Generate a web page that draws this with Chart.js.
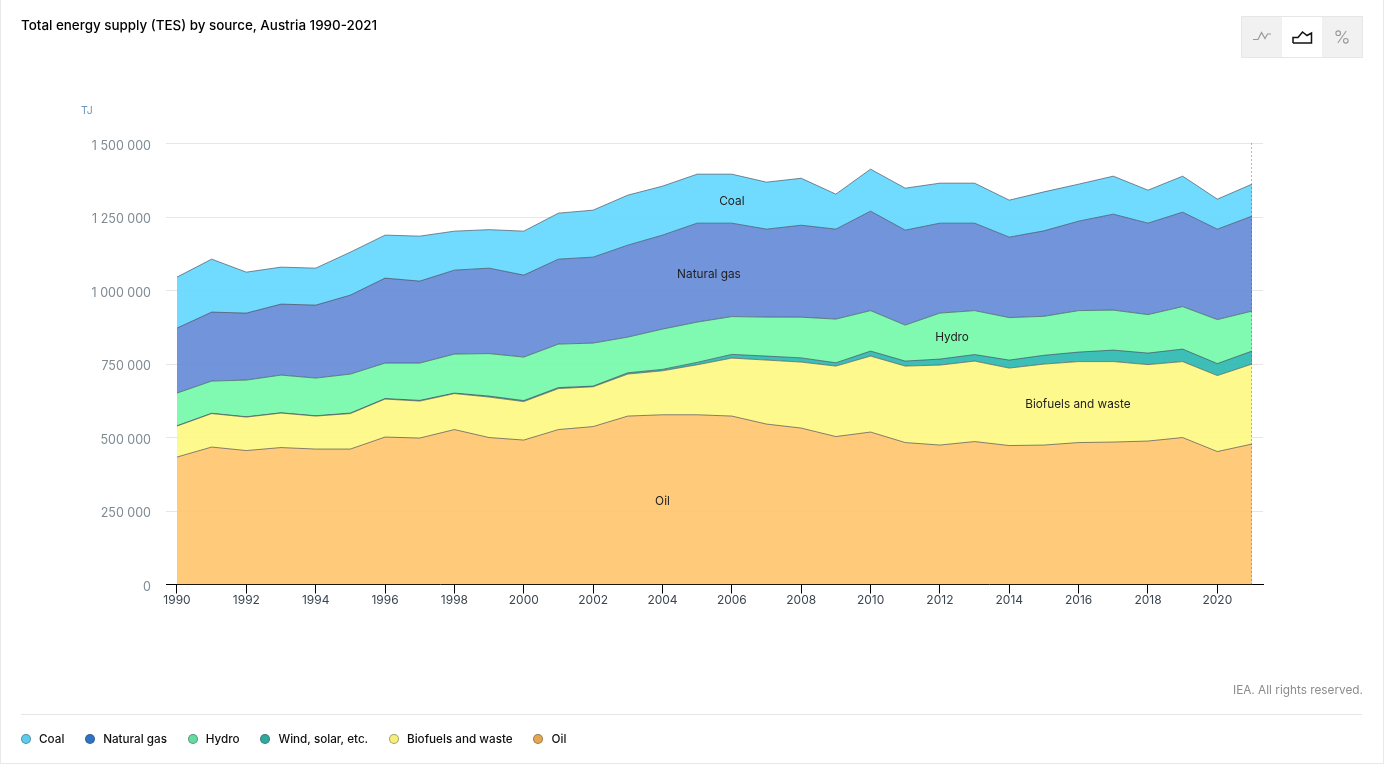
<!DOCTYPE html>
<html>
<head>
<meta charset="utf-8">
<title>Total energy supply (TES) by source, Austria 1990-2021</title>
<script src="https://cdn.jsdelivr.net/npm/chart.js@4"></script>
<style>
  html, body { margin: 0; padding: 0; background: #fff; }
  body { width: 1384px; height: 764px; position: relative; overflow: hidden; font-family: Inter, "Noto Sans", sans-serif; color: #111; }
  #marco { position: absolute; left: 0; top: 0; width: 1382px; border: 1px solid #e8e8e8; border-top: none; height: 763px; }
  #grafico { position: absolute; left: 0; top: 0; }
  #titulo { position: absolute; left: 21px; top: 17px; font-size: 13.4px; font-weight: 500; color: #000; }
  #unidad { position: absolute; left: 81px; top: 104px; font-size: 10.5px; color: #6b96c0; }
  #botones { position: absolute; left: 1241px; top: 16px; width: 120px; height: 40px; border: 1px solid #e6e6e6; background: #f1f1f1; display: flex; }
  #botones div { width: 40px; height: 40px; display: flex; align-items: center; justify-content: center; }
  #botones .activo { background: #fff; }
  #derechos { position: absolute; right: 21px; top: 683px; font-size: 11.8px; color: #8c8c8c; }
  #linea { position: absolute; left: 21px; top: 714px; width: 1341px; height: 1px; background: #e6e6e6; }
  #leyenda { position: absolute; left: 21px; top: 731px; display: flex; font-size: 11.7px; font-weight: 500; color: #111; line-height: 16px; }
  #leyenda span.item { display: flex; align-items: center; margin-right: 20.8px; }
  #leyenda i { width: 8px; height: 8px; border-radius: 50%; margin-right: 8px; border: 1px solid rgba(60,70,80,.45); }
</style>
</head>
<body>
<div id="marco"></div>
<canvas id="grafico" width="1384" height="764"></canvas>
<div id="titulo">Total energy supply (TES) by source, Austria 1990-2021</div>
<div id="unidad">TJ</div>
<div id="botones">
  <div><svg width="20" height="14" viewBox="0 0 20 14"><polyline points="1,9.5 6,9.5 9.5,2.5 13,8.5 15.5,4 19,4" fill="none" stroke="#999" stroke-width="1.2"/></svg></div>
  <div class="activo"><svg width="21" height="14" viewBox="0 0 21 14"><polyline points="1,13 1,7.5 6,7.5 10.5,2 15,5.5 19.5,3 19.5,13 1,13" fill="none" stroke="#111" stroke-width="1.5"/></svg></div>
  <div><svg width="14" height="14" viewBox="0 0 14 14"><g fill="none" stroke="#999" stroke-width="1.1"><circle cx="3.2" cy="3.2" r="2.3"/><circle cx="10.8" cy="10.8" r="2.3"/><line x1="11.2" y1="1" x2="2.8" y2="13"/></g></svg></div>
</div>
<div id="derechos">IEA. All rights reserved.</div>
<div id="linea"></div>
<div id="leyenda"></div>

<script>
// Datos (TJ)
const anios = [1990,1991,1992,1993,1994,1995,1996,1997,1998,1999,2000,2001,2002,2003,2004,2005,2006,2007,2008,2009,2010,2011,2012,2013,2014,2015,2016,2017,2018,2019,2020,2021];
const aniosEje = [1990,1992,1994,1996,1998,2000,2002,2004,2006,2008,2010,2012,2014,2016,2018,2020];

const oil = [433500,467500,455600,465800,460700,460700,501500,498100,527000,499800,491300,527000,537200,572900,577300,577300,572900,545700,532100,503200,518500,482800,474300,486200,472600,474300,482800,484500,487900,499800,452200,477700];
const biofuels = [105400,113900,113900,117300,112200,120700,129200,125800,122400,137700,130900,139400,135300,142800,149600,170000,197200,217600,224400,239700,258400,260100,272000,273700,263500,275400,275400,273700,260100,258400,258400,272000];
const wind = [1000,1000,1000,1000,1000,1700,1700,2400,1700,3400,3400,3400,2400,4400,4800,8200,12600,13600,14300,11200,17000,17000,20400,22100,27200,29900,32300,39100,39100,42500,40800,44200];
const hydro = [111200,109500,124800,128200,128200,132600,120700,126800,132600,144500,147900,147900,146200,121400,137000,137000,128500,132600,138400,148600,137700,122400,156400,149600,144500,132600,141100,136000,130900,144500,149600,136000];
const gas = [221000,234600,227800,241400,248200,268600,289000,278800,285600,290700,278800,289000,292400,312800,319600,336600,317900,299200,312800,306000,338300,323000,306000,297500,273700,290700,304300,326400,311100,321300,307700,323000];
const coal = [173400,180200,139400,125800,125800,146200,146200,153000,132600,130900,149600,156400,159800,170000,166600,166600,166600,159800,159800,119000,142800,142800,136000,136000,125800,132600,125800,129200,112200,122400,102000,108800];

// Etiquetas sobre las areas: nombre, anio, valor acumulado
const etiquetas = [
  ['Coal', 2006, 1303900],
  ['Natural gas', 2005.34, 1055700],
  ['Hydro', 2012.35, 841500],
  ['Biofuels and waste', 2015.98, 613700],
  ['Oil', 2004, 283900]
];

// Orden de la leyenda: nombre y color del punto
const leyenda = [
  ['Coal', '#5ccbee'],
  ['Natural gas', '#2f72c4'],
  ['Hydro', '#66dba0'],
  ['Wind, solar, etc.', '#2fa89e'],
  ['Biofuels and waste', '#f5ee78'],
  ['Oil', '#e5a650']
];

const pasarPuntos = valores => valores.map((v, i) => ({x: anios[i], y: v}));
const borde = 'rgba(55,65,80,0.62)';

function serie(nombre, valores, color, relleno) {
  return {
    label: nombre,
    data: pasarPuntos(valores),
    backgroundColor: color,
    borderColor: borde,
    borderWidth: 1,
    pointRadius: 0,
    tension: 0,
    fill: relleno
  };
}

// Linea punteada del ultimo anio y textos de las areas
const extras = {
  id: 'extras',
  afterDatasetsDraw(chart) {
    const ctx = chart.ctx;
    const x = chart.scales.x;
    const y = chart.scales.y;
    const xFin = Math.round(x.getPixelForValue(anios[anios.length - 1])) - 0.5;

    ctx.save();
    ctx.strokeStyle = 'rgba(80,80,80,0.8)';
    ctx.lineWidth = 1;
    ctx.setLineDash([1, 3]);
    ctx.beginPath();
    ctx.moveTo(xFin, y.top);
    ctx.lineTo(xFin, y.bottom);
    ctx.stroke();
    ctx.setLineDash([]);

    ctx.font = '11.8px Inter, "Noto Sans", sans-serif';
    ctx.fillStyle = '#222';
    ctx.textAlign = 'center';
    ctx.textBaseline = 'middle';
    etiquetas.forEach(e => {
      ctx.fillText(e[0], x.getPixelForValue(e[1]), y.getPixelForValue(e[2]));
    });
    ctx.restore();
  }
};

new Chart(document.getElementById('grafico').getContext('2d'), {
  type: 'line',
  data: {
    datasets: [
      serie('Oil', oil, 'rgba(255,197,109,0.9)', 'origin'),
      serie('Biofuels and waste', biofuels, 'rgba(253,248,127,0.9)', '-1'),
      serie('Wind, solar, etc.', wind, 'rgba(40,184,175,0.9)', '-1'),
      serie('Hydro', hydro, 'rgba(114,248,169,0.9)', '-1'),
      serie('Natural gas', gas, 'rgba(99,136,215,0.9)', '-1'),
      serie('Coal', coal, 'rgba(97,215,255,0.9)', '-1')
    ]
  },
  options: {
    responsive: false,
    animation: false,
    layout: {padding: {top: 143.5, right: 121, bottom: 0, left: 0}},
    plugins: {legend: {display: false}, title: {display: false}, tooltip: {enabled: false}},
    scales: {
      x: {
        type: 'linear',
        min: 1989.683,
        max: 2021.317,
        afterBuildTicks: s => { s.ticks = aniosEje.map(v => ({value: v})); },
        afterFit: s => { s.height = 179.5; },
        grid: {drawOnChartArea: false, drawTicks: true, tickLength: 9, tickWidth: 1, tickColor: '#000'},
        border: {color: '#000', width: 1},
        ticks: {
          color: '#3c4650',
          padding: 0,
          maxRotation: 0,
          autoSkip: false,
          font: {family: 'Inter', size: 12},
          callback: v => String(v)
        }
      },
      y: {
        stacked: true,
        min: 0,
        max: 1500000,
        afterFit: s => { s.width = 166; },
        grid: {color: '#e6e6e6', drawTicks: false},
        border: {display: false},
        ticks: {
          stepSize: 250000,
          color: '#7f8a92',
          padding: 15,
          labelOffset: 2.5,
          font: {family: 'Inter', size: 12.5},
          callback: v => String(v).replace(/\B(?=(\d{3})+$)/g, ' ')
        }
      }
    }
  },
  plugins: [extras]
});

// Leyenda en HTML
const cajaLeyenda = document.getElementById('leyenda');
leyenda.forEach(l => {
  const item = document.createElement('span');
  item.className = 'item';
  const punto = document.createElement('i');
  punto.style.background = l[1];
  item.appendChild(punto);
  item.appendChild(document.createTextNode(l[0]));
  cajaLeyenda.appendChild(item);
});
</script>
</body>
</html>
